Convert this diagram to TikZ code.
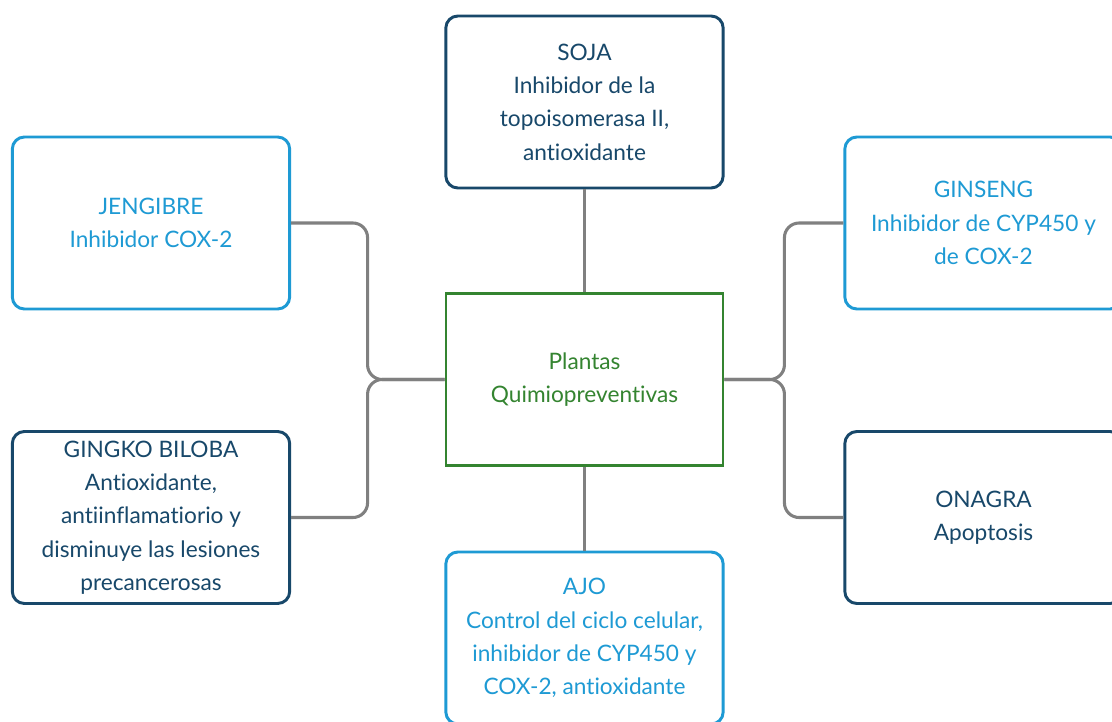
\documentclass[tikz,border=0pt]{standalone}
\usepackage{fontspec}
\setmainfont[Ligatures=NoCommon]{Lato}
\definecolor{cDark} {RGB}{ 24, 72,106}
\definecolor{cLight}{RGB}{ 30,154,212}
\definecolor{cGreen}{RGB}{ 52,132, 48}
\definecolor{cLink} {RGB}{128,128,128}
\tikzset{
  plant/.style  = {draw, fill=white, rounded corners=9pt, line width=2.2pt,
                   minimum width=208pt, minimum height=129pt, inner sep=2pt,
                   align=center, font=\fontsize{17}{25}\selectfont},
  dark/.style   = {plant, draw=cDark, text=cDark},
  light/.style  = {plant, draw=cLight, text=cLight},
  core/.style   = {plant, draw=cGreen, text=cGreen, rounded corners=0pt,
                   line width=1.9pt},
  link/.style   = {cLink, line width=2.3pt, rounded corners=11pt},
}
\begin{document}
\begin{tikzpicture}[x=0.75pt,y=-0.75pt]
  \useasboundingbox (0,0) rectangle (1112,721);
  \fill[white] (0,0) rectangle (1112,721);
  \clip (0,0) rectangle (1112,721);

  %% ---------------- centre and vertical axis ----------------------
  \node[core]  (plantas)  at (584.5,379.5) {Plantas\\Quimiopreventivas};
  \node[dark]  (soja)     at (584.5,102)   {SOJA\\Inhibidor de la\\topoisomerasa II,\\antioxidante};
  \node[light] (ajo)      at (584.5,638)   {AJO\\Control del ciclo celular,\\inhibidor de CYP450 y\\COX-2, antioxidante};

  %% ---------------- side boxes ------------------------------------
  \node[light] (jengibre) at (151,223)     {JENGIBRE\\Inhibidor COX-2};
  \node[dark]  (gingko)   at (151,517.5)   {GINGKO BILOBA\\Antioxidante,\\antiinflamatiorio y\\disminuye las lesiones\\precancerosas};
  \node[light] (ginseng)  at (983.5,223)   {GINSENG\\Inhibidor de CYP450 y\\de COX-2};
  \node[dark]  (onagra)   at (983.5,517.5) {ONAGRA\\Apoptosis};

  %% ---------------- connectors ------------------------------------
  \draw[link] (soja) -- (plantas);
  \draw[link] (plantas) -- (ajo);
  \draw[link] (plantas.west) -- ++(-77,0) |- (jengibre.east);
  \draw[link] (plantas.west) -- ++(-77,0) |- (gingko.east);
  \draw[link] (plantas.east) -- ++(60,0) |- (ginseng.west);
  \draw[link] (plantas.east) -- ++(60,0) |- (onagra.west);
\end{tikzpicture}
\end{document}
